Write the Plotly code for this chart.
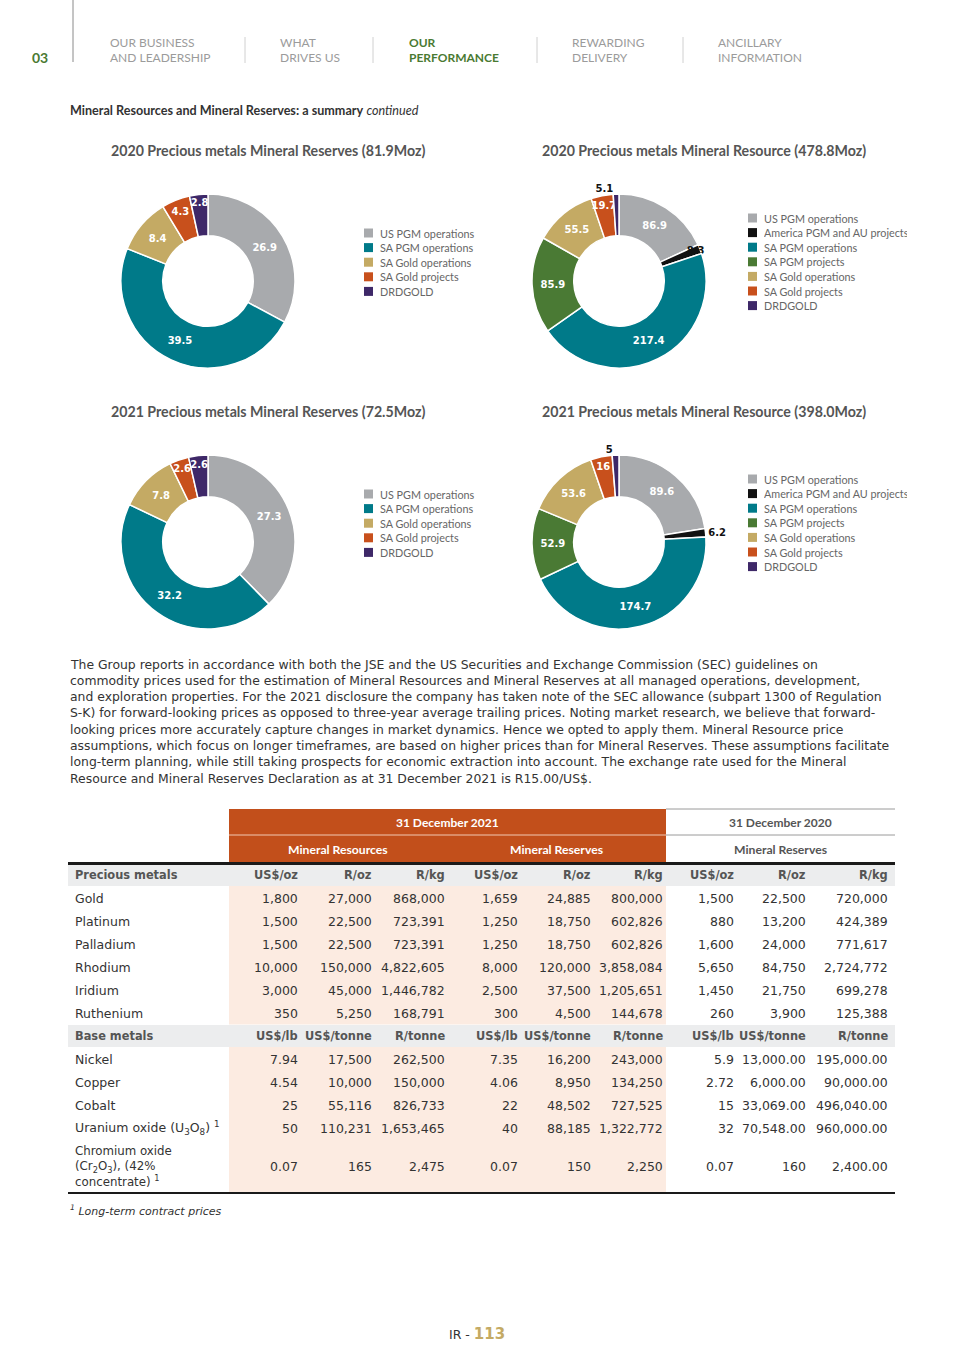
import plotly.graph_objects as go

W, H = 965, 1365
FONT = "Lato"
BODY = "DejaVu Sans"

# ---------------- data ----------------
reserve_labels = ["US PGM operations", "SA PGM operations", "SA Gold operations",
                  "SA Gold projects", "DRDGOLD"]
reserve_colors = ["#a8aaad", "#007a89", "#c4aa64", "#c8501c", "#3e2868"]
reserves_2020 = [26.9, 39.5, 8.4, 4.3, 2.8]
reserves_2021 = [27.3, 32.2, 7.8, 2.6, 2.6]

resource_labels = ["US PGM operations", "America PGM and AU projects", "SA PGM operations",
                   "SA PGM projects", "SA Gold operations", "SA Gold projects", "DRDGOLD"]
resource_colors = ["#a8aaad", "#111111", "#007a89", "#4a7a34", "#c4aa64", "#c8501c", "#3e2868"]
resource_2020 = [86.9, 8.3, 217.4, 85.9, 55.5, 19.7, 5.1]
resource_2021 = [89.6, 6.2, 174.7, 52.9, 53.6, 16, 5]

chart_titles = ["2020 Precious metals Mineral Reserves (81.9Moz)",
                "2020 Precious metals Mineral Resource (478.8Moz)",
                "2021 Precious metals Mineral Reserves (72.5Moz)",
                "2021 Precious metals Mineral Resource (398.0Moz)"]

nav_items = [("OUR BUSINESS", "AND LEADERSHIP"), ("WHAT", "DRIVES US"),
             ("OUR", "PERFORMANCE"), ("REWARDING", "DELIVERY"),
             ("ANCILLARY", "INFORMATION")]

paragraph_lines = [
    "The Group reports in accordance with both the JSE and the US Securities and Exchange Commission (SEC) guidelines on",
    "commodity prices used for the estimation of Mineral Resources and Mineral Reserves at all managed operations, development,",
    "and exploration properties. For the 2021 disclosure the company has taken note of the SEC allowance (subpart 1300 of Regulation",
    "S-K) for forward-looking prices as opposed to three-year average trailing prices. Noting market research, we believe that forward-",
    "looking prices more accurately capture changes in market dynamics. Hence we opted to apply them. Mineral Resource price",
    "assumptions, which focus on longer timeframes, are based on higher prices than for Mineral Reserves. These assumptions facilitate",
    "long-term planning, while still taking prospects for economic extraction into account. The exchange rate used for the Mineral",
    "Resource and Mineral Reserves Declaration as at 31 December 2021 is R15.00/US$.",
]

precious_units = ["US$/oz", "R/oz", "R/kg"] * 3
base_units = ["US$/lb", "US$/tonne", "R/tonne"] * 3

precious_metals = ["Gold", "Platinum", "Palladium", "Rhodium", "Iridium", "Ruthenium"]
precious_prices = [
    ["1,800", "27,000", "868,000", "1,659", "24,885", "800,000", "1,500", "22,500", "720,000"],
    ["1,500", "22,500", "723,391", "1,250", "18,750", "602,826", "880", "13,200", "424,389"],
    ["1,500", "22,500", "723,391", "1,250", "18,750", "602,826", "1,600", "24,000", "771,617"],
    ["10,000", "150,000", "4,822,605", "8,000", "120,000", "3,858,084", "5,650", "84,750", "2,724,772"],
    ["3,000", "45,000", "1,446,782", "2,500", "37,500", "1,205,651", "1,450", "21,750", "699,278"],
    ["350", "5,250", "168,791", "300", "4,500", "144,678", "260", "3,900", "125,388"],
]
base_metals = ["Nickel", "Copper", "Cobalt", "Uranium oxide (U<sub>3</sub>O<sub>8</sub>) <sup>1</sup>"]
base_prices = [
    ["7.94", "17,500", "262,500", "7.35", "16,200", "243,000", "5.9", "13,000.00", "195,000.00"],
    ["4.54", "10,000", "150,000", "4.06", "8,950", "134,250", "2.72", "6,000.00", "90,000.00"],
    ["25", "55,116", "826,733", "22", "48,502", "727,525", "15", "33,069.00", "496,040.00"],
    ["50", "110,231", "1,653,465", "40", "88,185", "1,322,772", "32", "70,548.00", "960,000.00"],
]
chromium_label = "Chromium oxide<br>(Cr<sub>2</sub>O<sub>3</sub>), (42%<br>concentrate) <sup>1</sup>"
chromium_prices = ["0.07", "165", "2,475", "0.07", "150", "2,250", "0.07", "160", "2,400.00"]

# ---------------- layout constants ----------------
ORANGE = "#c24f1b"
PEACH = "#fcebe1"
GREYROW = "#ecedee"
GREEN = "#4a7a32"
TXT = "#333333"
HDR = "#555555"

col_edges = [300, 374, 447, 520, 593, 665, 736, 808, 890]
tbl_left, tbl_right = 68, 895
org_left, org_right = 229, 666
row_h = 23

fig = go.Figure()
fig.add_trace(go.Scatter(x=[], y=[], hoverinfo="skip", showlegend=False))

annotations = []
shapes = []


def txt(x, y, text, size=12, color=TXT, bold=False, anchor="left", italic=False,
        family=FONT, width=None, align="left"):
    t = text
    if bold:
        t = "<b>" + t + "</b>"
    if italic:
        t = "<i>" + t + "</i>"
    a = dict(x=x, y=y, xref="x", yref="y", text=t, showarrow=False,
             xanchor=anchor, yanchor="middle", align=align,
             font=dict(family=family, size=size, color=color))
    if width is not None:
        a["width"] = width
    annotations.append(a)


def rect(x0, y0, x1, y1, color):
    shapes.append(dict(type="rect", xref="x", yref="y", x0=x0, y0=y0, x1=x1, y1=y1,
                       fillcolor=color, line=dict(width=0), layer="below"))


def hline(x0, x1, y, color, width=1):
    shapes.append(dict(type="line", xref="x", yref="y", x0=x0, x1=x1, y0=y, y1=y,
                       line=dict(color=color, width=width)))


def vline(x, y0, y1, color, width=1):
    shapes.append(dict(type="line", xref="x", yref="y", x0=x, x1=x, y0=y0, y1=y1,
                       line=dict(color=color, width=width)))


# ---------------- header ----------------
vline(73, 0, 62, "#8a8a8a", 1)
txt(30, 57, "03", size=14, color=GREEN, bold=True)
nav_x = [108, 278, 407, 570, 716]
sep_x = [245, 373, 537, 683]
for sx in sep_x:
    vline(sx, 37, 63, "#d0d0d0", 1)
for i, (l1, l2) in enumerate(nav_items):
    active = (i == 2)
    col = GREEN if active else "#9b9b9b"
    txt(nav_x[i], 42, l1, size=12, color=col, bold=active)
    txt(nav_x[i], 57, l2, size=12, color=col, bold=active)

txt(68, 110, "<b>Mineral Resources and Mineral Reserves: a summary</b> <i>continued</i>",
    size=12.6, color="#333333")

# ---------------- donuts ----------------
donuts = [
    dict(values=reserves_2020, labels=reserve_labels, colors=reserve_colors,
         cx=208, cy=281, title_y=150, title_x=268, leg_x=364, leg_y=233,
         pos=["inside"] * 5, tcol=["white"] * 5),
    dict(values=resource_2020, labels=resource_labels, colors=resource_colors,
         cx=619, cy=281, title_y=150, title_x=704, leg_x=748, leg_y=218,
         pos=["inside"] * 6 + ["outside"], tcol=["white", "#111", "white", "white", "white", "white", "#111"]),
    dict(values=reserves_2021, labels=reserve_labels, colors=reserve_colors,
         cx=208, cy=542, title_y=411, title_x=268, leg_x=364, leg_y=494,
         pos=["inside"] * 5, tcol=["white"] * 5),
    dict(values=resource_2021, labels=resource_labels, colors=resource_colors,
         cx=619, cy=542, title_y=411, title_x=704, leg_x=748, leg_y=479,
         pos=["inside", "outside"] + ["inside"] * 4 + ["outside"],
         tcol=["white", "#111", "white", "white", "white", "white", "#111"]),
]
R = 87
for k, d in enumerate(donuts):
    fig.add_trace(go.Pie(
        values=d["values"], labels=d["labels"], sort=False, direction="clockwise",
        rotation=0, hole=0.52,
        marker=dict(colors=d["colors"], line=dict(color="white", width=1.5)),
        texttemplate="<b>%{value}</b>", textposition=d["pos"],
        textfont=dict(family=BODY, size=10, color=d["tcol"]),
        insidetextorientation="horizontal",
        domain=dict(x=[(d["cx"] - R) / W, (d["cx"] + R) / W],
                    y=[1 - (d["cy"] + R) / H, 1 - (d["cy"] - R) / H]),
        showlegend=False, hoverinfo="label+value",
    ))
    txt(d["title_x"], d["title_y"], chart_titles[k], size=14.2, color=HDR, bold=True, anchor="center")
    for j, (lab, colr) in enumerate(zip(d["labels"], d["colors"])):
        yy = d["leg_y"] + j * 14.6
        shapes.append(dict(type="rect", xref="x", yref="y", x0=d["leg_x"], x1=d["leg_x"] + 9,
                           y0=yy - 4.5, y1=yy + 4.5, fillcolor=colr, line=dict(width=0)))
        txt(d["leg_x"] + 14, yy, lab, size=10.8, color="#666666", width=905 - (d["leg_x"] + 14))

# ---------------- paragraph ----------------
for i, line in enumerate(paragraph_lines):
    txt(68, 664 + i * 16.3, line, size=12.4, color=TXT, family=BODY)

# ---------------- table ----------------
rect(org_left, 809, org_right, 862, ORANGE)
hline(org_right, tbl_right, 809, "#9a9a9a", 1)
hline(org_left, org_right, 835, "#f2c9b3", 1)
hline(org_right, tbl_right, 835, "#9a9a9a", 1)
txt((org_left + org_right) / 2, 822, "31 December 2021", size=12, color="white", bold=True, anchor="center")
txt((org_left + col_edges[2]) / 2, 849, "Mineral Resources", size=12.2, color="white", bold=True, anchor="center")
txt((col_edges[2] + org_right) / 2, 849, "Mineral Reserves", size=12.2, color="white", bold=True, anchor="center")
txt((org_right + tbl_right) / 2, 822, "31 December 2020", size=12, color=HDR, bold=True, anchor="center")
txt((org_right + tbl_right) / 2, 849, "Mineral Reserves", size=12.2, color=HDR, bold=True, anchor="center")
hline(tbl_left, tbl_right, 863.5, "#1a1a1a", 3)

HSZ = 11.4
# precious header row
y = 875
rect(tbl_left, y - 11, tbl_right, y + 11, GREYROW)
txt(73, y, "Precious metals", size=HSZ, color=HDR, bold=True, family=BODY)
for c, u in enumerate(precious_units):
    txt(col_edges[c], y, u, size=HSZ, color=HDR, bold=True, anchor="right", family=BODY)
body_top = y + 11
for r, (name, vals) in enumerate(zip(precious_metals, precious_prices)):
    yy = y + (r + 1) * row_h
    txt(73, yy, name, size=12.5, color=TXT, family=BODY)
    for c, v in enumerate(vals):
        txt(col_edges[c], yy, v, size=12.5, color=TXT, anchor="right", family=BODY)
rect(org_left, body_top, org_right, y + len(precious_metals) * row_h + 11.5, PEACH)

# base header row
yb = y + (len(precious_metals) + 1) * row_h
rect(tbl_left, yb - 11, tbl_right, yb + 11, GREYROW)
txt(73, yb, "Base metals", size=HSZ, color=HDR, bold=True, family=BODY)
for c, u in enumerate(base_units):
    txt(col_edges[c], yb, u, size=HSZ, color=HDR, bold=True, anchor="right", family=BODY)
for r, (name, vals) in enumerate(zip(base_metals, base_prices)):
    yy = yb + (r + 1) * row_h
    txt(73, yy, name, size=12.5, color=TXT, family=BODY)
    for c, v in enumerate(vals):
        txt(col_edges[c], yy, v, size=12.5, color=TXT, anchor="right", family=BODY)
ychr = yb + len(base_metals) * row_h + 38
txt(73, ychr, chromium_label, size=11.8, color=TXT, family=BODY)
for c, v in enumerate(chromium_prices):
    txt(col_edges[c], ychr, v, size=12.5, color=TXT, anchor="right", family=BODY)
tbl_bottom = ychr + 26
rect(org_left, yb + 11, org_right, tbl_bottom, PEACH)
hline(tbl_left, tbl_right, tbl_bottom + 1, "#1a1a1a", 2)

txt(68, 1210, "<sup>1</sup> Long-term contract prices", size=11, color=TXT, italic=True, family=BODY)

# page number
txt(447, 1334, "IR - <b><span style='color:#c4aa64;font-size:15px'>113</span></b>", size=12.5,
    color="#333333", family=BODY)

fig.update_layout(
    width=W, height=H, margin=dict(l=0, r=0, t=0, b=0),
    paper_bgcolor="white", plot_bgcolor="white",
    xaxis=dict(range=[0, W], domain=[0, 1], visible=False, fixedrange=True),
    yaxis=dict(range=[H, 0], domain=[0, 1], visible=False, fixedrange=True),
    uniformtext=dict(minsize=10, mode="show"),
    annotations=annotations, shapes=shapes, showlegend=False,
)
fig.write_html("out.html", config={"displayModeBar": False},
               post_script="document.body.style.margin='0px';")
